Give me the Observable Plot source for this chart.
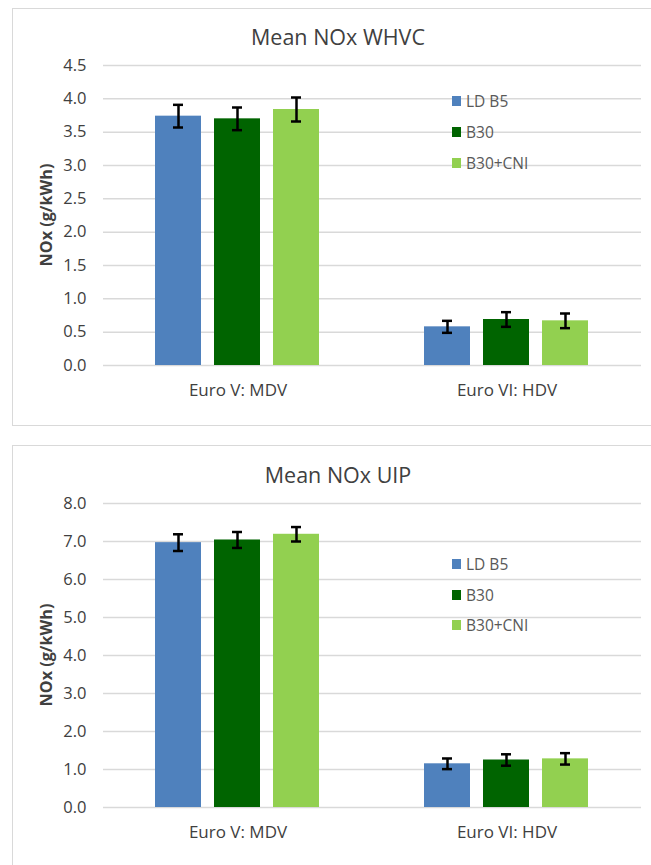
<!DOCTYPE html>
<html>
<head>
<meta charset="utf-8">
<script src="https://cdn.jsdelivr.net/npm/d3@7"></script>
<script src="https://cdn.jsdelivr.net/npm/@observablehq/plot@0.6"></script>
<style>
  body { margin: 0; width: 651px; height: 865px; overflow: hidden; position: relative; background: #fff; font-family: "Open Sans", sans-serif; }
  .panel { position: absolute; left: 12px; width: 660px; border: 1.5px solid #d9d9d9; box-sizing: border-box; }
  .title { position: absolute; left: 12px; width: 652px; text-align: center; font-size: 21.5px; line-height: 24px; color: #404040; }
  .ylabel { position: absolute; transform: translate(-50%, -50%) rotate(-90deg); white-space: nowrap; font-weight: bold; font-size: 16.2px; color: #404040; }
  .svgwrap { position: absolute; left: 0; }
  .legend { position: absolute; left: 452px; }
  .legend .row { display: flex; align-items: center; height: 31px; font-size: 15.5px; color: #595959; }
  .legend .sw { width: 9px; height: 10px; margin-right: 5px; }
  .nox [aria-label^="fx-axis"] text { font-size: 17px; }
</style>
</head>
<body>
<script>
const categories = ["Euro V: MDV", "Euro VI: HDV"];
const series = ["LD B5", "B30", "B30+CNI"];
const seriesColors = ["#4f81bd", "#006400", "#92d050"];

const whvcMDV = [3.74, 3.70, 3.84];
const whvcHDV = [0.58, 0.69, 0.67];
const whvcErrMDV = [0.17, 0.17, 0.18];
const whvcErrHDV = [0.09, 0.11, 0.11];

const uipMDV = [6.97, 7.04, 7.19];
const uipHDV = [1.15, 1.25, 1.28];
const uipErrMDV = [0.22, 0.21, 0.19];
const uipErrHDV = [0.14, 0.15, 0.15];

const whvcTicks = [0, 0.5, 1, 1.5, 2, 2.5, 3, 3.5, 4, 4.5];
const uipTicks = [0, 1, 2, 3, 4, 5, 6, 7, 8];

const yLabel = "NOx (g/kWh)";

function makeRows(mdv, hdv, emdv, ehdv) {
  const vals = [mdv, hdv], errs = [emdv, ehdv];
  return categories.flatMap((c, i) => series.map((s, j) => ({category: c, series: s, value: vals[i][j], err: errs[i][j]})));
}

function addPanel(cfg) {
  const panel = document.createElement("div");
  panel.className = "panel";
  panel.style.top = cfg.panelTop + "px";
  panel.style.height = cfg.panelHeight + "px";
  document.body.appendChild(panel);

  const title = document.createElement("div");
  title.className = "title";
  title.style.top = (cfg.titleY - 13) + "px";
  title.textContent = cfg.title;
  document.body.appendChild(title);

  const rows = cfg.rows;
  const chart = Plot.plot({
    className: "nox",
    width: 651,
    height: cfg.svgHeight,
    marginLeft: 103,
    marginRight: 10,
    marginTop: cfg.marginTop,
    marginBottom: cfg.marginBottom,
    style: {fontFamily: "'Open Sans', sans-serif", fontSize: "16.5px", color: "#404040", background: "transparent", overflow: "visible"},
    facet: {data: rows, x: "category"},
    fx: {domain: categories, padding: 0, label: null, tickSize: 0, tickPadding: 18, axis: "bottom"},
    x: {domain: series, paddingInner: 0.215, paddingOuter: 0.872, axis: null},
    y: {domain: [cfg.ticks[0], cfg.ticks[cfg.ticks.length - 1]], ticks: cfg.ticks, tickFormat: d3.format(".1f"), tickSize: 0, tickPadding: 17, label: null},
    color: {domain: series, range: seriesColors},
    marks: [
      Plot.ruleY(cfg.ticks, {stroke: "#d9d9d9", strokeWidth: 1.5}),
      Plot.barY(rows, {x: "series", y: "value", fill: "series"}),
      Plot.ruleX(rows, {x: "series", y1: d => d.value - d.err, y2: d => d.value + d.err, stroke: "#000", strokeWidth: 2.5}),
      Plot.tickY(rows, {x: "series", y: d => d.value + d.err, insetLeft: 18, insetRight: 18, stroke: "#000", strokeWidth: 2.5}),
      Plot.tickY(rows, {x: "series", y: d => d.value - d.err, insetLeft: 18, insetRight: 18, stroke: "#000", strokeWidth: 2.5})
    ]
  });
  const wrap = document.createElement("div");
  wrap.className = "svgwrap";
  wrap.style.top = cfg.svgTop + "px";
  wrap.appendChild(chart);
  document.body.appendChild(wrap);

  const yl = document.createElement("div");
  yl.className = "ylabel";
  yl.style.left = "46px";
  yl.style.top = cfg.yLabelY + "px";
  yl.textContent = yLabel;
  document.body.appendChild(yl);

  const legend = document.createElement("div");
  legend.className = "legend";
  legend.style.top = cfg.legendTop + "px";
  series.forEach((s, i) => {
    const row = document.createElement("div");
    row.className = "row";
    row.style.height = cfg.legendRow + "px";
    const sw = document.createElement("span");
    sw.className = "sw";
    sw.style.background = seriesColors[i];
    const t = document.createElement("span");
    t.textContent = s;
    row.appendChild(sw);
    row.appendChild(t);
    legend.appendChild(row);
  });
  document.body.appendChild(legend);
}

addPanel({
  title: "Mean NOx WHVC", panelTop: 8, panelHeight: 418, titleY: 38,
  svgTop: 50, svgHeight: 376, marginTop: 15, marginBottom: 61,
  ticks: whvcTicks, rows: makeRows(whvcMDV, whvcHDV, whvcErrMDV, whvcErrHDV),
  yLabelY: 215, legendTop: 85.5, legendRow: 31
});
addPanel({
  title: "Mean NOx UIP", panelTop: 445, panelHeight: 440, titleY: 476,
  svgTop: 490, svgHeight: 375, marginTop: 13, marginBottom: 58,
  ticks: uipTicks, rows: makeRows(uipMDV, uipHDV, uipErrMDV, uipErrHDV),
  yLabelY: 655, legendTop: 548.75, legendRow: 30.5
});
</script>
</body>
</html>
